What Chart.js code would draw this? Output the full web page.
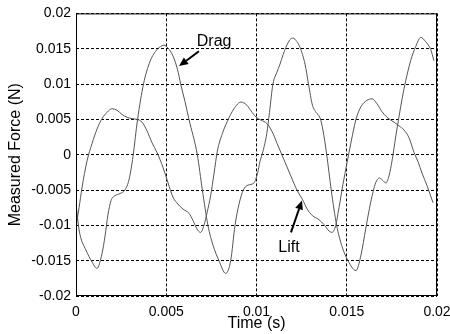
<!DOCTYPE html>
<html>
<head>
<meta charset="utf-8">
<script src="https://cdn.jsdelivr.net/npm/chart.js@4.4.0/dist/chart.umd.min.js"></script>
<style>
  html, body { margin: 0; padding: 0; background: #fff; }
  #wrap { width: 450px; height: 334px; }
</style>
</head>
<body>
<div id="wrap"><canvas id="chart" width="450" height="334"></canvas></div>
<script>
// values, force in mN, time in s
const dragTime = [0, 0.00011, 0.00022, 0.00055, 0.00089, 0.00116, 0.00144, 0.00161, 0.00177, 0.00194,
  0.00216, 0.00244, 0.00271, 0.00294, 0.00316, 0.00341, 0.00374, 0.00410, 0.00440, 0.00468,
  0.00488, 0.00510, 0.00535, 0.00562, 0.00580, 0.00604, 0.00626, 0.00672, 0.00700, 0.00731,
  0.00759, 0.00792, 0.00829, 0.00857, 0.00881, 0.00903, 0.00927, 0.00953, 0.00986, 0.01006,
  0.01019, 0.01036, 0.01057, 0.01072, 0.01091, 0.01112, 0.01130, 0.01148, 0.01163, 0.01186,
  0.01202, 0.01224, 0.01241, 0.01269, 0.01288, 0.01310, 0.01330, 0.01352, 0.01368, 0.01389,
  0.01414, 0.01444, 0.01474, 0.01507, 0.01551, 0.01579, 0.01605, 0.01633, 0.01660, 0.01681,
  0.01698, 0.01717, 0.01734, 0.01752, 0.01771, 0.01789, 0.01808, 0.01827, 0.01854, 0.01882,
  0.01910, 0.01937, 0.01965, 0.01983];
const dragForce = [-6.9, -9.5, -11.3, -13.5, -15.2, -16.1, -14.0, -11.5, -8.5, -6.5,
  -5.8, -5.5, -5.0, -3.5, -0.2, 5.0, 10.0, 13.2, 14.6, 15.3,
  15.5, 15.1, 14.1, 12.1, 10.0, 7.5, 5.0, 0, -5, -10,
  -12.8, -15, -16.8, -15, -10, -7, -5, -4.3, -4.0, -2.6,
  -1.0, 0.5, 3.0, 6.0, 10.0, 11.6, 12.8, 14.2, 15.2, 16.3,
  16.5, 16.0, 15.2, 12.8, 10.0, 7.0, 6.0, 5.2, 3.5, 0,
  -5, -10, -13.0, -15.0, -16.4, -14.2, -10.5, -6.7, -4.0, -3.3,
  -3.6, -4.0, -3.0, -0.7, 2.5, 5.3, 8.1, 10.5, 13.3, 15.3,
  16.6, 16.0, 14.9, 13.3];

const liftTime = [0, 0.00017, 0.00033, 0.00061, 0.00089, 0.00116, 0.00144, 0.00172, 0.00199, 0.00227,
  0.00255, 0.00283, 0.00310, 0.00338, 0.00366, 0.00393, 0.00421, 0.00449, 0.00482, 0.00510,
  0.00537, 0.00565, 0.00593, 0.00626, 0.00648, 0.00670, 0.00690, 0.00709, 0.00727, 0.00746,
  0.00765, 0.00783, 0.00811, 0.00838, 0.00875, 0.00914, 0.00947, 0.00975, 0.01003, 0.01025,
  0.01058, 0.01086, 0.01114, 0.01152, 0.01190, 0.01226, 0.01254, 0.01281, 0.01309, 0.01346,
  0.01374, 0.01402, 0.01418, 0.01439, 0.01457, 0.01479, 0.01501, 0.01524, 0.01551, 0.01579,
  0.01612, 0.01640, 0.01668, 0.01695, 0.01723, 0.01762, 0.01789, 0.01817, 0.01845, 0.01873,
  0.01895, 0.01917, 0.01945, 0.01978];
const liftForce = [-10.2, -7.5, -4.7, -0.9, 1.6, 3.6, 5.1, 6.0, 6.5, 6.3,
  5.7, 5.3, 5.1, 5.0, 4.6, 3.4, 1.7, 0.3, -1.8, -4.0,
  -6.0, -7.0, -7.7, -8.3, -9.3, -10.5, -11.0, -10.0, -8.1, -5.8,
  -2.6, 0.5, 3.0, 4.7, 6.5, 7.45, 7.0, 6.0, 5.2, 4.9,
  4.4, 3.3, 1.6, -0.7, -3.0, -5.1, -6.3, -7.7, -8.6, -9.2,
  -9.9, -10.8, -11.0, -10.0, -7.5, -4.2, -1.2, 1.8, 5.0, 6.8,
  7.7, 7.9, 7.2, 6.1, 5.3, 4.6, 4.1, 3.5, 2.4, 0.3,
  -1.0, -2.6, -4.4, -6.8];

const xTicks = [0, 0.005, 0.01, 0.015, 0.02];
const yTicks = [-0.02, -0.015, -0.01, -0.005, 0, 0.005, 0.01, 0.015, 0.02];

// arrow labels, placed in data units
const notes = [
  { text: 'Drag', at: [0.00765, 0.0160], from: [0.00681, 0.01465], to: [0.00571, 0.01254] },
  { text: 'Lift', at: [0.0118, -0.0132], from: [0.01191, -0.01099], to: [0.01252, -0.00648] }
];

const toPoints = (ts, fs) => ts.map((t, i) => ({ x: t, y: fs[i] / 1000 }));
const fmt = v => String(Number(v.toFixed(3)));
const font = 'Arial, "Liberation Sans", Helvetica, sans-serif';

const overlay = {
  id: 'overlay',
  afterDraw(chart) {
    const { ctx, chartArea: a, scales: { x, y } } = chart;
    ctx.save();
    ctx.strokeStyle = '#000';
    ctx.lineWidth = 1;
    ctx.setLineDash([]);
    ctx.strokeRect(a.left + 0.5, a.top + 0.5, a.right - a.left - 1, a.bottom - a.top - 1);

    ctx.fillStyle = '#000';
    ctx.font = '16px ' + font;
    ctx.textAlign = 'center';
    ctx.textBaseline = 'middle';
    notes.forEach(n => {
      const x0 = x.getPixelForValue(n.from[0]), y0 = y.getPixelForValue(n.from[1]);
      const x1 = x.getPixelForValue(n.to[0]), y1 = y.getPixelForValue(n.to[1]);
      const ang = Math.atan2(y1 - y0, x1 - x0);
      const hl = 9, hw = 4;
      const bx = x1 - hl * Math.cos(ang), by = y1 - hl * Math.sin(ang);
      ctx.lineWidth = 2;
      ctx.beginPath();
      ctx.moveTo(x0, y0);
      ctx.lineTo(bx, by);
      ctx.stroke();
      ctx.beginPath();
      ctx.moveTo(x1, y1);
      ctx.lineTo(bx + hw * Math.sin(ang), by - hw * Math.cos(ang));
      ctx.lineTo(bx - hw * Math.sin(ang), by + hw * Math.cos(ang));
      ctx.closePath();
      ctx.fill();
      ctx.fillText(n.text, x.getPixelForValue(n.at[0]), y.getPixelForValue(n.at[1]));
    });
    ctx.restore();
  }
};

const lineStyle = {
  borderColor: '#555',
  borderWidth: 1,
  pointRadius: 0,
  fill: false,
  cubicInterpolationMode: 'monotone'
};

new Chart(document.getElementById('chart'), {
  type: 'line',
  data: {
    datasets: [
      Object.assign({ label: 'Drag', data: toPoints(dragTime, dragForce) }, lineStyle),
      Object.assign({ label: 'Lift', data: toPoints(liftTime, liftForce) }, lineStyle)
    ]
  },
  options: {
    responsive: false,
    animation: false,
    events: [],
    layout: { padding: { left: 0, top: 12, right: 13, bottom: 0 } },
    plugins: { legend: { display: false }, tooltip: { enabled: false } },
    scales: {
      x: {
        type: 'linear',
        min: 0, max: 0.02,
        afterBuildTicks: s => { s.ticks = xTicks.map(v => ({ value: v })); },
        afterFit: s => { s.height = 38; s.paddingLeft = 0; s.paddingRight = 0; },
        grid: { color: '#000', lineWidth: 1, drawTicks: false },
        border: { display: false, dash: [3, 2] },
        ticks: { color: '#000', font: { family: font, size: 14 }, padding: 8, maxRotation: 0, callback: fmt },
        title: { display: true, text: 'Time (s)', color: '#000', font: { family: font, size: 16 }, padding: { top: 0, bottom: 1 } }
      },
      y: {
        min: -0.02, max: 0.02,
        afterBuildTicks: s => { s.ticks = yTicks.map(v => ({ value: v })); },
        afterFit: s => { s.width = 76; },
        grid: { color: '#000', lineWidth: 1, drawTicks: false },
        border: { display: false, dash: [3, 2] },
        ticks: { color: '#000', font: { family: font, size: 14 }, padding: 5, callback: fmt },
        title: { display: true, text: 'Measured Force (N)', color: '#000', font: { family: font, size: 16 }, padding: { top: 6, bottom: 0 } }
      }
    }
  },
  plugins: [overlay]
});
</script>
</body>
</html>
